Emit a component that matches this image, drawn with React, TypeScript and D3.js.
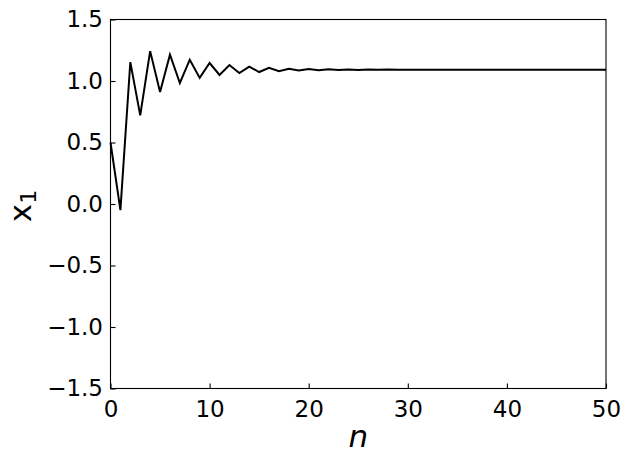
import React, { useRef, useEffect } from "react"
import * as d3 from "d3"

// x1 values per iteration n
const xValues = [
  0.5, -0.05, 1.154, 0.72, 1.243, 0.91, 1.214, 0.984, 1.173, 1.025,
  1.146, 1.049, 1.13, 1.065, 1.117, 1.073, 1.108, 1.079, 1.1, 1.085,
  1.097, 1.088, 1.095, 1.089, 1.094, 1.09, 1.093, 1.091, 1.093, 1.091,
  1.092, 1.092, 1.092, 1.092, 1.092, 1.092, 1.092, 1.092, 1.092, 1.092,
  1.092, 1.092, 1.092, 1.092, 1.092, 1.092, 1.092, 1.092, 1.092, 1.092,
  1.092,
]
const xTicks = [0, 10, 20, 30, 40, 50]
const yTicks = [-1.5, -1.0, -0.5, 0.0, 0.5, 1.0, 1.5]

const W = 631
const H = 462
const m = { left: 110.5, right: 606, top: 19.5, bottom: 388.5 }
const font = "DejaVu Sans, sans-serif"

const App = () => {
  const ref = useRef<SVGSVGElement>(null)

  useEffect(() => {
    const svg = d3.select(ref.current)
    svg.selectAll("*").remove()

    const x = d3.scaleLinear().domain([0, 50]).range([m.left, m.right])
    const y = d3.scaleLinear().domain([-1.5, 1.5]).range([m.bottom, m.top])

    // the series
    const line = d3.line<number>()
      .x((d, i) => x(i))
      .y(d => y(d))
    svg.append("path")
      .datum(xValues)
      .attr("d", line)
      .attr("fill", "none")
      .attr("stroke", "black")
      .attr("stroke-width", 2)
      .attr("stroke-linejoin", "miter")

    // axes with inward ticks
    const xAxis = d3.axisBottom(x).tickValues(xTicks).tickSize(-5).tickPadding(12)
      .tickFormat(d3.format("d"))
    const yAxis = d3.axisLeft(y).tickValues(yTicks).tickSize(-5).tickPadding(7.5)
      .tickFormat(d => d3.format(".1f")(d as number).replace("-", "\u2212"))

    const gx = svg.append("g").attr("transform", `translate(0,${m.bottom})`).call(xAxis)
    const gy = svg.append("g").attr("transform", `translate(${m.left},0)`).call(yAxis)
    for (const g of [gx, gy]) {
      g.select(".domain").remove()
      g.selectAll("line").attr("stroke", "black").attr("stroke-width", 1.1)
      g.selectAll("text").attr("font-family", font).attr("font-size", 23).attr("fill", "black")
    }

    // frame
    svg.append("rect")
      .attr("x", m.left).attr("y", m.top)
      .attr("width", m.right - m.left).attr("height", m.bottom - m.top)
      .attr("fill", "none").attr("stroke", "black").attr("stroke-width", 1.1)

    // axis labels
    svg.append("text")
      .attr("x", (m.left + m.right) / 2).attr("y", 447)
      .attr("text-anchor", "middle")
      .attr("font-family", font).attr("font-style", "italic").attr("font-size", 31)
      .text("n")

    const yl = svg.append("text")
      .attr("transform", `translate(31,${(m.top + m.bottom) / 2 + 2}) rotate(-90)`)
      .attr("text-anchor", "middle")
      .attr("font-family", font).attr("font-size", 31)
    yl.append("tspan").text("x")
    yl.append("tspan").attr("font-size", 22).attr("dy", 5).text("1")
  }, [])

  return (
    <svg ref={ref} width={W} height={H}
      style={{ position: "absolute", left: 0, top: 0, background: "white" }} />
  )
}

export default App
